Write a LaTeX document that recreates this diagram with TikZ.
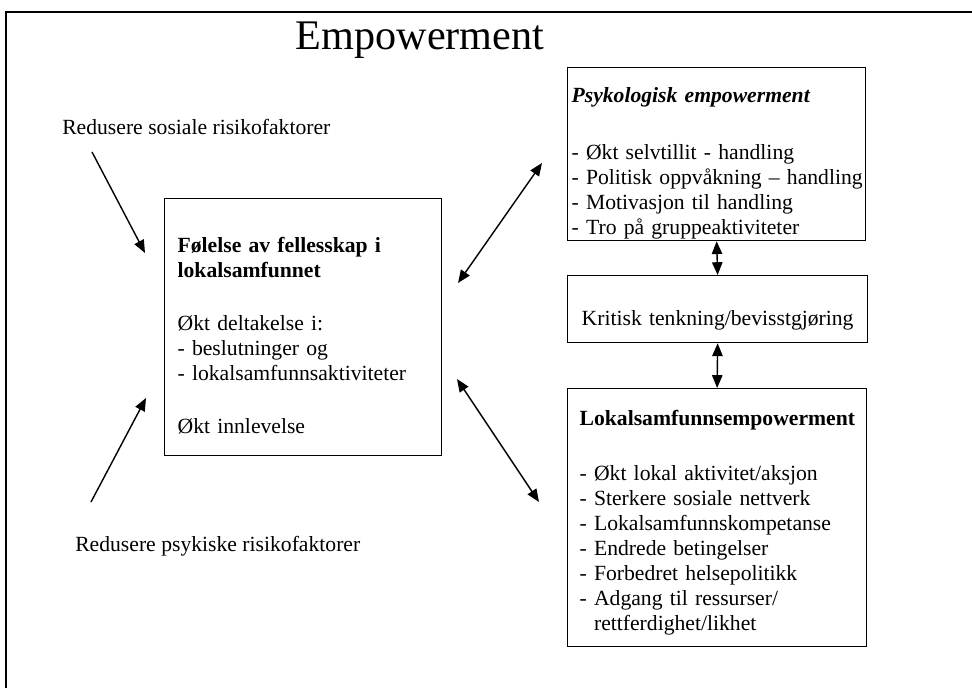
\documentclass[tikz,border=0pt]{standalone}
\usepackage{fontspec}
\setmainfont{Liberation Serif}
\usetikzlibrary{arrows.meta}

\begin{document}
\begin{tikzpicture}[
    box/.style={draw, line width=0.9pt, anchor=north west, inner ysep=0pt, align=left, font=\fontsize{15.4}{17.8}\selectfont},
    lbl/.style={anchor=base west, inner sep=0pt, font=\fontsize{15.4}{17.8}\selectfont},
    arr/.style={line width=1pt, -{Triangle[length=0.32cm,width=0.26cm]}},
    dblarr/.style={line width=1pt, {Triangle[length=0.32cm,width=0.26cm]}-{Triangle[length=0.32cm,width=0.26cm]}}
]
        \useasboundingbox (0,0) rectangle (24.3,17.2);

        % Frame
        \draw[line width=1.4pt] (0.15,0) -- (0.15,16.9) -- (24.3,16.9);

        % Title
        \node[anchor=base, inner sep=0pt, font=\fontsize{30}{36}\selectfont] (title) at (10.5,15.95) {Empowerment};

        % Left box
        \node[box, text width=6.275cm, inner xsep=0.325cm, text height=1.35cm, text depth=5.075cm] (fellesskap) at (4.1,12.25)
            {\textbf{Følelse av fellesskap i}\\ \textbf{lokalsamfunnet}\\[0.7cm] Økt deltakelse i:\\ - beslutninger og\\ - lokalsamfunnsaktiviteter\\[0.7cm] Økt innlevelse};

        % Right boxes
        \node[box, text width=7.25cm, inner xsep=0.1cm, text height=0.875cm, text depth=3.45cm] (psyk) at (14.175,15.525)
            {\textbf{\textit{Psykologisk empowerment}}\\[0.8cm] - Økt selvtillit - handling\\ \mbox{- Politisk oppvåkning -- handling}\\ - Motivasjon til handling\\ - Tro på gruppeaktiviteter};
        \node[box, align=center, text width=7.5cm, inner xsep=0pt, text height=1.25cm, text depth=0.425cm] (kritisk) at (14.175,10.325)
            {Kritisk tenkning/bevisstgjøring};
        \node[box, text width=6.875cm, inner xsep=0.3cm, text height=0.925cm, text depth=5.525cm] (lokal) at (14.175,7.5)
            {\textbf{Lokalsamfunnsempowerment}\\[0.75cm] - Økt lokal aktivitet/aksjon\\ - Sterkere sosiale nettverk\\ - Lokalsamfunnskompetanse\\ - Endrede betingelser\\ - Forbedret helsepolitikk\\ - Adgang til ressurser/\\ \phantom{- }rettferdighet/likhet};

        % Risk factors
        \node[lbl] (sosiale) at (1.55,13.825) {Redusere sosiale risikofaktorer};
        \node[lbl] (psykiske) at (1.875,3.4) {Redusere psykiske risikofaktorer};

        % Arrow ends
        \coordinate (sosialeA) at (2.3,13.4);
        \coordinate (sosialeB) at (3.625,10.875);
        \coordinate (psykiskeA) at (2.275,4.65);
        \coordinate (psykiskeB) at (3.65,7.25);
        \coordinate (oppA) at (11.45,10.125);
        \coordinate (oppB) at (13.55,13.125);
        \coordinate (nedA) at (11.425,7.725);
        \coordinate (nedB) at (13.475,4.65);

        % Arrows
        \draw[arr] (sosialeA) -- (sosialeB);
        \draw[arr] (psykiskeA) -- (psykiskeB);
        \draw[dblarr] (oppA) -- (oppB);
        \draw[dblarr] (nedA) -- (nedB);
        \draw[dblarr] (psyk.south) -- (kritisk.north);
        \draw[dblarr] (kritisk.south) -- (lokal.north);

    \end{tikzpicture}
\end{document}
